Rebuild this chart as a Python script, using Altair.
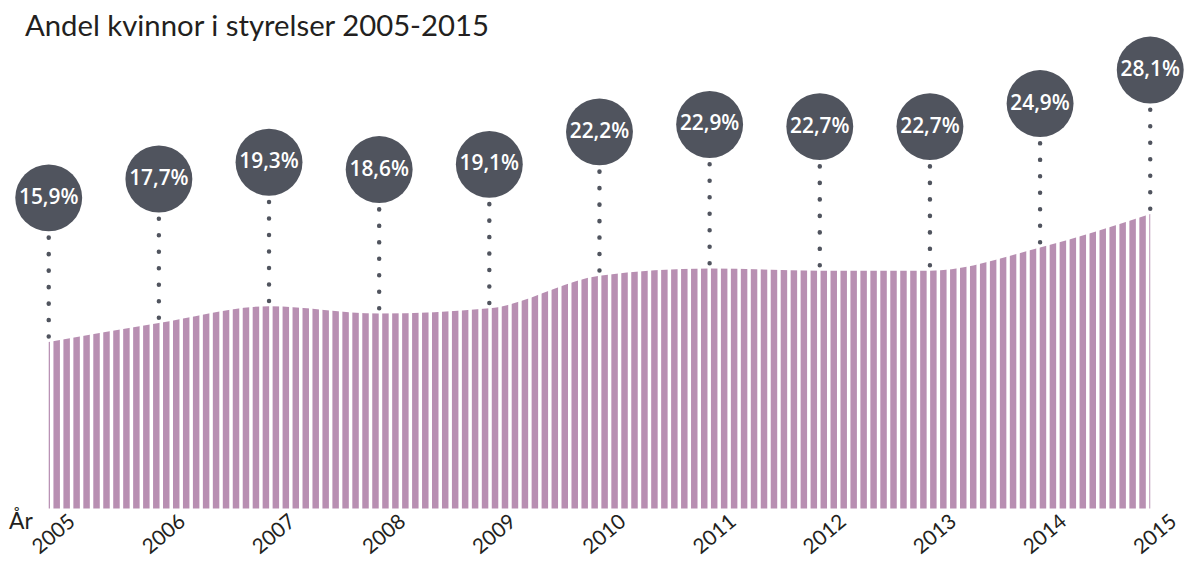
import altair as alt
import numpy as np
import pandas as pd

# ---- data ----
years = [2005, 2006, 2007, 2008, 2009, 2010, 2011, 2012, 2013, 2014, 2015]
values = [15.9, 17.7, 19.3, 18.6, 19.1, 22.2, 22.9, 22.7, 22.7, 24.9, 28.1]
labels = [f"{v:.1f}".replace(".", ",") + "%" for v in values]
title_text = "Andel kvinnor i styrelser 2005-2015"
axis_word = "År"

# ---- styling ----
W, H = 1109, 480
AREA = "#b88fb2"
DARK = "#50545e"
TEXT = "#231f20"
FONT = "Lato"

df = pd.DataFrame({"year": years, "value": values, "label": labels})

# decorative white gaps that cut the area into vertical stripes (every ~10 px)
px_per_year = W / (years[-1] - years[0])
gap_px = 3 + 10.03 * np.arange(0, 111)
gaps = pd.DataFrame({"gx": years[0] + gap_px / px_per_year})

xscale = alt.Scale(domain=[years[0], years[-1]], nice=False, zero=False)
yscale = alt.Scale(domain=[0, 45.5], nice=False)
xaxis = alt.Axis(values=years, format="d", title=None, domain=False,
                 ticks=False, grid=False, labelAngle=-40,
                 labelAlign="center", labelBaseline="middle",
                 labelPadding=26, labelOffset=5, labelFontSize=21,
                 labelFont=FONT, labelColor=TEXT, labelBound=False,
                 labelOverlap=False)


def X(field):
    return alt.X(field, scale=xscale, axis=xaxis)


def Y(field):
    return alt.Y(field, scale=yscale, axis=None)


base = alt.Chart(df)

area = base.mark_area(color=AREA, interpolate="monotone").encode(
    x=X("year:Q"), y=Y("value:Q"),
)

stripes = alt.Chart(gaps).mark_rule(color="white", strokeWidth=3.5).encode(
    x=X("gx:Q"),
    y=alt.value(0),
    y2=alt.value(H + 4),
)

dots = base.mark_rule(color=DARK, strokeWidth=4.5, strokeCap="round",
                      strokeDash=[0.1, 16.5], yOffset=-105, y2Offset=-5).encode(
    x=X("year:Q"), y=Y("value:Q"), y2="value:Q",
)

bubbles = base.mark_circle(size=4536, color=DARK, opacity=1, yOffset=-145).encode(
    x=X("year:Q"), y=Y("value:Q"),
)

bubble_text = base.mark_text(yOffset=-145, color="white", font="Open Sans",
                             fontSize=21, fontWeight=600, baseline="middle",
                             align="center").encode(
    x=X("year:Q"), y=Y("value:Q"), text="label:N",
)

title = alt.Chart(pd.DataFrame({"t": [title_text]})).mark_text(
    align="left", baseline="alphabetic", fontSize=29.5, font=FONT, color=TEXT
).encode(x=alt.value(-24), y=alt.value(4), text="t:N")

ar = alt.Chart(pd.DataFrame({"t": [axis_word]})).mark_text(
    align="left", baseline="alphabetic", fontSize=23, font=FONT, color=TEXT
).encode(x=alt.value(-40), y=alt.value(501), text="t:N")

chart = alt.layer(area, stripes, dots, bubbles, bubble_text, title, ar).properties(
    width=W, height=H,
    autosize=alt.AutoSizeParams(type="none"),
    padding={"left": 41, "top": 22, "right": 35, "bottom": 54},
    background="white",
).configure_view(strokeWidth=0)

chart.save("out.html", embed_options={"renderer": "svg", "actions": False})
